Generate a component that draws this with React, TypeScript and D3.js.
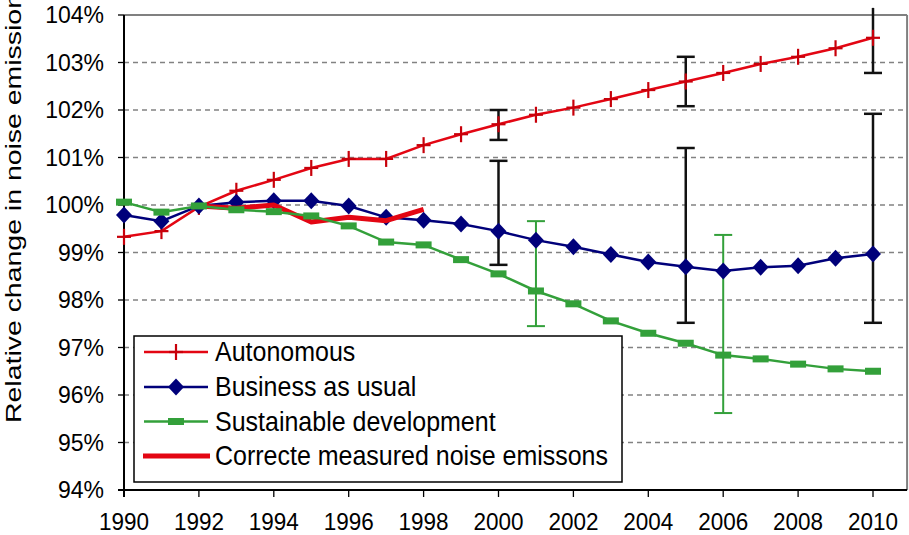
import React, { useEffect } from "react";
import * as d3 from "d3";

const years = [1990,1991,1992,1993,1994,1995,1996,1997,1998,1999,2000,2001,2002,2003,2004,2005,2006,2007,2008,2009,2010];
const autonomous = [99.33,99.45,99.96,100.3,100.53,100.78,100.97,100.97,101.26,101.49,101.7,101.9,102.05,102.23,102.42,102.6,102.78,102.97,103.12,103.3,103.52];
const business = [99.79,99.66,99.98,100.06,100.09,100.09,99.98,99.74,99.68,99.6,99.45,99.26,99.12,98.96,98.8,98.7,98.61,98.69,98.72,98.88,98.97];
const sustainable = [100.06,99.85,99.98,99.9,99.86,99.77,99.56,99.22,99.16,98.85,98.55,98.19,97.92,97.56,97.3,97.09,96.84,96.76,96.65,96.55,96.5];
const measuredYears = [1992,1993,1994,1995,1996,1997,1998];
const measured = [99.98,99.93,100.0,99.64,99.74,99.67,99.91];

// error bars: [year, low, high, capTop]
const autoErrors: [number, number, number, boolean][] = [[2000,101.37,102.0,true],[2005,102.08,103.12,true],[2010,102.78,104.15,false]];
const busErrors: [number, number, number, boolean][] = [[2000,98.74,100.93,true],[2005,97.52,101.2,true],[2010,97.52,101.92,true]];
const susErrors: [number, number, number, boolean][] = [[2001,97.45,99.66,true],[2006,95.62,99.37,true]];

const yTicks = [94,95,96,97,98,99,100,101,102,103,104];
const gridVals = [95,96,97,98,99,100,101,102,103];
const xTicks = [1990,1992,1994,1996,1998,2000,2002,2004,2006,2008,2010];
const legendLabels = ["Autonomous","Business as usual","Sustainable development","Correcte measured noise emissons"];

const W = 909, H = 535;
const RED = "#e30613";
const NAVY = "#00007a";
const GREEN = "#33a03a";

export default function App() {
  useEffect(() => { document.body.style.margin = "0"; }, []);
  const x = d3.scaleLinear().domain([1990, 2010]).range([124, 873]);
  const y = d3.scaleLinear().domain([94, 104]).range([490, 15]);
  const left = x(1990), right = x(2010.91), top = y(104), bottom = y(94);
  const line = d3.line<[number, number]>().x(d => x(d[0])).y(d => y(d[1]));
  const zip = (xs: number[], vs: number[]) => xs.map((v, i) => [v, vs[i]] as [number, number]);
  const font = "'Liberation Sans', Arial, sans-serif";

  const errBar = (e: [number, number, number, boolean], color: string, sw: number, key: string) => {
    const [yr, lo, hi, capTop] = e;
    const cx = x(yr);
    return (
      <g key={key} stroke={color} strokeWidth={sw}>
        <line x1={cx} x2={cx} y1={y(lo)} y2={y(hi)} />
        <line x1={cx - 9} x2={cx + 9} y1={y(lo)} y2={y(lo)} />
        {capTop && <line x1={cx - 9} x2={cx + 9} y1={y(hi)} y2={y(hi)} />}
      </g>
    );
  };

  const plus = (cx: number, cy: number, key: string) => (
    <g key={key} stroke="#c8000a" strokeWidth={2.2}>
      <line x1={cx} x2={cx} y1={cy - 8} y2={cy + 8} />
      <line x1={cx - 7} x2={cx + 7} y1={cy} y2={cy} />
    </g>
  );
  const diamond = (cx: number, cy: number, key: string) => (
    <path key={key} d={`M${cx},${cy - 8.5}L${cx + 8},${cy}L${cx},${cy + 8.5}L${cx - 8},${cy}Z`} fill={NAVY} />
  );
  const dash = (cx: number, cy: number, key: string) => (
    <rect key={key} x={cx - 8} y={cy - 3.5} width={16} height={7} fill={GREEN} />
  );

  const lgX0 = 144, lgX1 = 208, lgRowY = [352, 387, 421.5, 456];

  return (
    <svg width={W} height={H} style={{ position: "fixed", left: 0, top: 0, background: "#fff" }}>
      <rect x={0} y={0} width={W} height={H} fill="#fff" />
      {/* grid */}
      {gridVals.map(v => (
        <line key={"g" + v} x1={left} x2={right} y1={y(v)} y2={y(v)} stroke="#828282" strokeWidth={1.3} strokeDasharray="5,4" />
      ))}
      {/* frame */}
      <line x1={left} x2={right} y1={top} y2={top} stroke="#808080" strokeWidth={2} />
      <line x1={right} x2={right} y1={top} y2={bottom} stroke="#808080" strokeWidth={2} />
      <line x1={left} x2={left} y1={top} y2={bottom + 7} stroke="#000" strokeWidth={2} />
      <line x1={left - 6} x2={right} y1={bottom} y2={bottom} stroke="#000" strokeWidth={2} />
      {yTicks.map(v => (
        <line key={"yt" + v} x1={left - 6} x2={left} y1={y(v)} y2={y(v)} stroke="#000" strokeWidth={1.3} />
      ))}
      {xTicks.map(t => (
        <line key={"xt" + t} x1={x(t)} x2={x(t)} y1={bottom} y2={bottom + 7} stroke="#000" strokeWidth={1.3} />
      ))}
      {/* tick labels */}
      {yTicks.map(v => (
        <text key={"yl" + v} x={104} y={y(v) + 8} textAnchor="end" fontFamily={font} fontSize={23} fill="#000">{v + "%"}</text>
      ))}
      {xTicks.map(t => (
        <text key={"xl" + t} transform={`translate(${x(t)},530) scale(1,1.08)`} textAnchor="middle" fontFamily={font} fontSize={22.5} fill="#000">{t}</text>
      ))}
      {/* y label */}
      <text transform="translate(21,423) rotate(-90)" fontFamily={font} fontSize={22} fill="#000" textLength={430} lengthAdjust="spacingAndGlyphs">Relative change in noise emission</text>

      {/* error bars */}
      {autoErrors.map((e, i) => errBar(e, "#111", 2.5, "ae" + i))}
      {busErrors.map((e, i) => errBar(e, "#111", 2.5, "be" + i))}
      {susErrors.map((e, i) => errBar(e, GREEN, 2, "se" + i))}

      {/* Autonomous */}
      <path d={line(zip(years, autonomous)) || ""} fill="none" stroke={RED} strokeWidth={2.5} />
      {years.map((yr, i) => plus(x(yr), y(autonomous[i]), "ap" + i))}
      {/* Business */}
      <path d={line(zip(years, business)) || ""} fill="none" stroke={NAVY} strokeWidth={2.5} />
      {years.map((yr, i) => diamond(x(yr), y(business[i]), "bd" + i))}
      {/* Measured */}
      <path d={line(zip(measuredYears, measured)) || ""} fill="none" stroke={RED} strokeWidth={5} strokeLinejoin="round" />
      {/* Sustainable */}
      <path d={line(zip(years, sustainable)) || ""} fill="none" stroke={GREEN} strokeWidth={2.5} />
      {years.map((yr, i) => dash(x(yr), y(sustainable[i]), "sd" + i))}

      {/* legend */}
      <rect x={134} y={336} width={488} height={146} fill="#fff" stroke="#000" strokeWidth={1.5} />
      <line x1={lgX0} x2={lgX1} y1={lgRowY[0]} y2={lgRowY[0]} stroke={RED} strokeWidth={2.5} />
      {plus((lgX0 + lgX1) / 2, lgRowY[0], "lp")}
      <line x1={lgX0} x2={lgX1} y1={lgRowY[1]} y2={lgRowY[1]} stroke={NAVY} strokeWidth={2.5} />
      {diamond((lgX0 + lgX1) / 2, lgRowY[1], "ld")}
      <line x1={lgX0} x2={lgX1} y1={lgRowY[2]} y2={lgRowY[2]} stroke={GREEN} strokeWidth={2.5} />
      {dash((lgX0 + lgX1) / 2, lgRowY[2], "ls")}
      <line x1={lgX0 - 1} x2={lgX1 + 2} y1={lgRowY[3]} y2={lgRowY[3]} stroke={RED} strokeWidth={5} />
      {legendLabels.map((l, i) => (
        <text key={"lt" + i} transform={`translate(215,${lgRowY[i] + 9}) scale(1,1.1)`} fontFamily={font} fontSize={25} fill="#000">{l}</text>
      ))}
    </svg>
  );
}
